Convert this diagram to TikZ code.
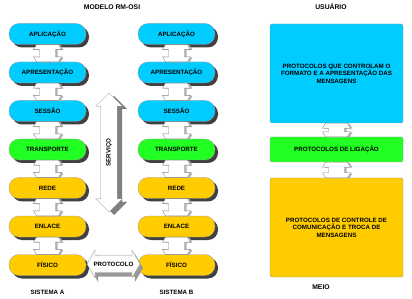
\documentclass[tikz,border=0pt]{standalone}
\usepackage{fontspec}
\setmainfont{Liberation Sans}
\usepackage{tikz}
\usetikzlibrary{
    arrows.meta,
    positioning,
    calc,
    shapes.arrows,
    shadows
}
\usepackage{xcolor}
\definecolor{azulcamada}{HTML}{00CCFF}
\definecolor{verdecamada}{HTML}{22FF22}
\definecolor{amarelocamada}{HTML}{FFCC00}

% seta dupla entre duas camadas
\newcommand{\ligar}[2]{%
    \draw[ligacao] ($(#1.south)+(-11,0)$) -- ++(22,0) -- ++(3,5) -- ++(-6,0)
        -- ($(#2.north)+(8,-5)$) -- ++(6,0) -- ++(-3,5) -- ++(-22,0)
        -- ++(-3,-5) -- ++(6,0) -- ($(#1.south)+(-8,5)$) -- ++(-6,0) -- cycle;%
}

\begin{document}
\begin{tikzpicture}[
        x=1pt, y=-1pt,
        every node/.style={
            font=\fontsize{6.2}{7.6}\selectfont\bfseries,
            inner sep=0pt
        },
        camada/.style={
            rectangle,
            rounded corners=10pt,
            draw=black!40,
            line width=0.3pt,
            minimum width=77pt,
            minimum height=21pt,
            general shadow={fill=black!75, shadow xshift=3pt, shadow yshift=-3pt}
        },
        bloco/.style={
            rectangle,
            rounded corners=2pt,
            draw=black!40,
            line width=0.4pt,
            minimum width=133pt,
            align=center
        },
        ligacao/.style={
            draw=black!50,
            fill=white,
            line width=0.35pt,
            preaction={fill=black!30, transform canvas={shift={(2pt,-0.5pt)}}}
        },
        titulo/.style={
            font=\fontsize{6.8}{8}\selectfont\bfseries
        }
    ]
    \useasboundingbox (0,0) rectangle (412,299);

    % titulos
    \node[titulo] (modelo) at (112,7) {MODELO RM-OSI};
    \node[titulo] (usuario) at (331,7) {USUÁRIO};
    \node[titulo] (meio) at (321,287) {MEIO};
    \node (sisA) at (47.5,292) {SISTEMA A};
    \node (sisB) at (176.5,292) {SISTEMA B};

    % sistema A
    \node[camada, fill=azulcamada] (A1) at (47.5,34) {APLICAÇÃO};
    \node[camada, fill=azulcamada] (A2) at (47.5,72.5) {APRESENTAÇÃO};
    \node[camada, fill=azulcamada] (A3) at (47.5,111) {SESSÃO};
    \node[camada, fill=verdecamada] (A4) at (47.5,149.5) {TRANSPORTE};
    \node[camada, fill=amarelocamada] (A5) at (47.5,188) {REDE};
    \node[camada, fill=amarelocamada] (A6) at (47.5,226.5) {ENLACE};
    \node[camada, fill=amarelocamada] (A7) at (47.5,265) {FÍSICO};

    % sistema B
    \node[camada, fill=azulcamada] (B1) at (176.5,34) {APLICAÇÃO};
    \node[camada, fill=azulcamada] (B2) at (176.5,72.5) {APRESENTAÇÃO};
    \node[camada, fill=azulcamada] (B3) at (176.5,111) {SESSÃO};
    \node[camada, fill=verdecamada] (B4) at (176.5,149.5) {TRANSPORTE};
    \node[camada, fill=amarelocamada] (B5) at (176.5,188) {REDE};
    \node[camada, fill=amarelocamada] (B6) at (176.5,226.5) {ENLACE};
    \node[camada, fill=amarelocamada] (B7) at (176.5,265) {FÍSICO};

    % servico e protocolo
    \node[double arrow, rotate=90, draw=black!45, fill=white, line width=0.3pt,
        inner xsep=0pt, inner ysep=5.2pt,
        minimum height=119pt, minimum width=25pt,
        double arrow head extend=5pt,
        general shadow={fill=black!50, shadow xshift=5pt, shadow yshift=-3pt}]
        (servico) at (109,152.5) {SERVIÇO};
    \node[double arrow, draw=black!45, fill=white, line width=0.3pt,
        inner xsep=0pt, inner ysep=5.8pt,
        minimum height=53pt, minimum width=28pt,
        double arrow head extend=5pt, double arrow tip angle=120,
        general shadow={fill=black!40, shadow xshift=3pt, shadow yshift=-4pt}]
        (protocolo) at (113.5,264) {PROTOCOLO};

    % lado direito
    \node[bloco, fill=azulcamada, minimum height=99pt] (apres) at (336.5,73.5)
        {PROTOCOLOS QUE CONTROLAM O\\FORMATO E A APRESENTAÇÃO DAS\\MENSAGENS};
    \node[bloco, fill=verdecamada, minimum height=25pt] (lig) at (336.5,149.5)
        {PROTOCOLOS DE LIGAÇÃO};
    \node[bloco, fill=amarelocamada, minimum height=99pt] (troca) at (336.5,227.5)
        {PROTOCOLOS DE CONTROLE DE\\COMUNICAÇÃO E TROCA DE\\MENSAGENS};

    % ligacoes entre camadas
    \ligar{A1}{A2} \ligar{A2}{A3} \ligar{A3}{A4}
    \ligar{A4}{A5} \ligar{A5}{A6} \ligar{A6}{A7}
    \ligar{B1}{B2} \ligar{B2}{B3} \ligar{B3}{B4}
    \ligar{B4}{B5} \ligar{B5}{B6} \ligar{B6}{B7}
    \ligar{apres}{lig} \ligar{lig}{troca}

\end{tikzpicture}
\end{document}
